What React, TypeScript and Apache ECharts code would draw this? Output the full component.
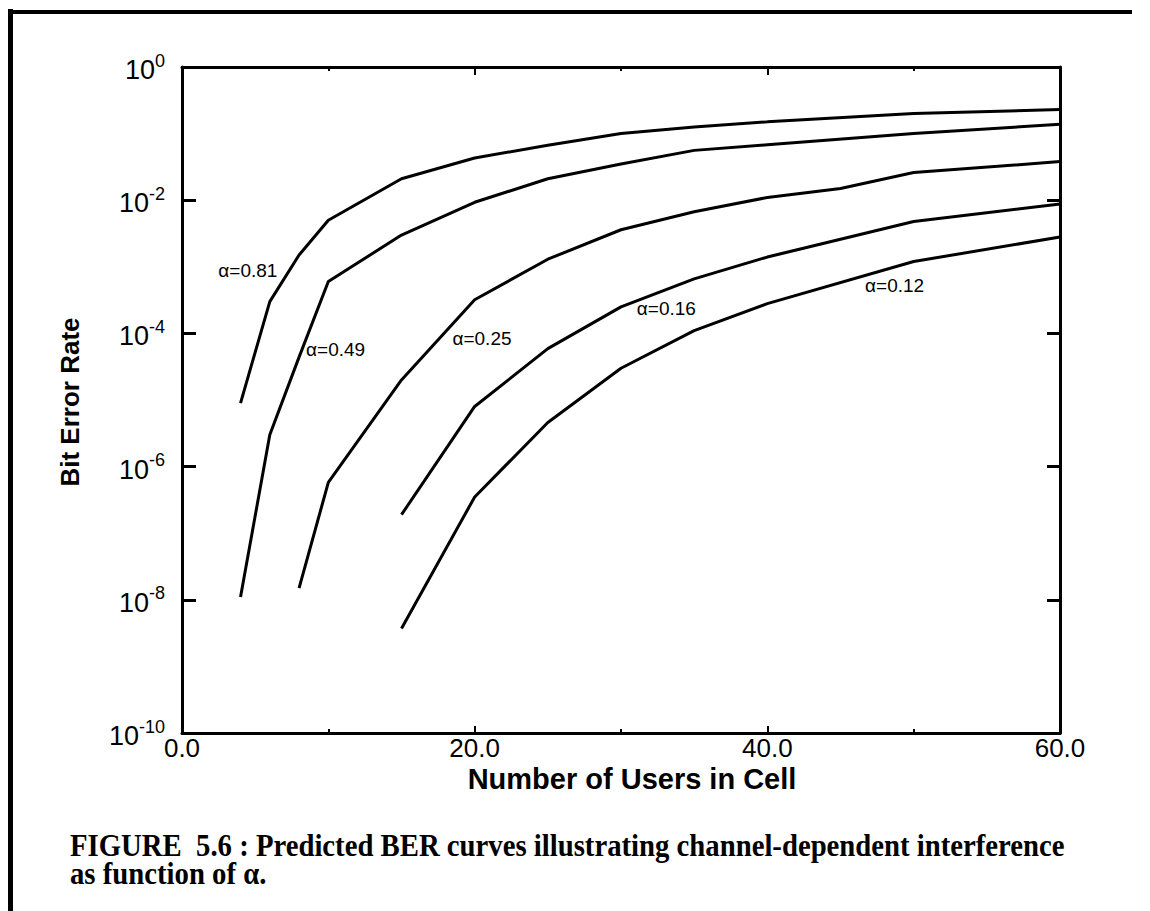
import React, { useEffect, useRef } from 'react';
import * as echarts from 'echarts';

// ---- data ----
const usersA081 = [4, 6, 8, 10, 15, 20, 25, 30, 35, 40, 50, 60];
const berA081 = [9e-6, 3e-4, 1.5e-3, 5e-3, 2.1e-2, 4.3e-2, 6.7e-2, 0.1, 0.126, 0.15, 0.2, 0.23];

const usersA049 = [4, 6, 8, 10, 15, 20, 25, 30, 35, 40, 50, 60];
const berA049 = [1.1e-8, 3e-6, 4.4e-5, 6e-4, 3e-3, 9.3e-3, 2.1e-2, 3.5e-2, 5.6e-2, 6.8e-2, 0.1, 0.138];

const usersA025 = [8, 10, 15, 20, 25, 30, 35, 40, 45, 50, 60];
const berA025 = [1.5e-8, 5.8e-7, 2e-5, 3.2e-4, 1.3e-3, 3.6e-3, 6.7e-3, 1.1e-2, 1.5e-2, 2.6e-2, 3.8e-2];

const usersA016 = [15, 20, 25, 30, 35, 40, 50, 60];
const berA016 = [1.9e-7, 8e-6, 5.9e-5, 2.5e-4, 6.6e-4, 1.4e-3, 4.8e-3, 8.8e-3];

const usersA012 = [15, 20, 25, 30, 35, 40, 50, 60];
const berA012 = [3.7e-9, 3.5e-7, 4.6e-6, 3e-5, 1.1e-4, 2.8e-4, 1.2e-3, 2.8e-3];

const curveNames = ['α=0.81', 'α=0.49', 'α=0.25', 'α=0.16', 'α=0.12'];
// label anchors, in data coordinates
const labelUsers = [4.5, 10.5, 20.5, 33.1, 48.7];
const labelBer = [8.7e-4, 5.7e-5, 8.3e-5, 2.4e-4, 5.2e-4];

const xTitle = 'Number of Users in Cell';
const yTitle = 'Bit Error Rate';
const captionLine1 = 'FIGURE  5.6 : Predicted BER curves illustrating channel-dependent interference';
const captionLine2 = 'as function of α.';

const SANS = '"Liberation Sans", Arial, Helvetica, sans-serif';
const SERIF = '"Liberation Serif", "Times New Roman", serif';

const curves = [
  [usersA081, berA081],
  [usersA049, berA049],
  [usersA025, berA025],
  [usersA016, berA016],
  [usersA012, berA012],
];

function measure(text: string, font: string): number {
  const c = document.createElement('canvas');
  const ctx = c.getContext('2d');
  if (!ctx) return 1;
  ctx.font = font;
  return ctx.measureText(text).width;
}

export default function App() {
  const ref = useRef<HTMLDivElement>(null);

  useEffect(() => {
    if (!ref.current) return;
    const chart = echarts.init(ref.current, null, { renderer: 'svg' });

    const capFont = `bold 31px ${SERIF}`;
    const capW = measure(captionLine1, capFont);
    const capScale = capW > 0 ? 995 / capW : 1;

    const axisLine = { show: true, onZero: false, lineStyle: { color: '#000', width: 3 } };

    const series = curves.map(([xs, ys], i) => ({
      type: 'line',
      xAxisIndex: 0,
      yAxisIndex: 0,
      data: xs.map((x, k) => [x, ys[k]]),
      symbol: 'none',
      lineStyle: { color: '#000', width: 3 },
      itemStyle: { color: '#000' },
      markPoint: {
        symbol: 'circle',
        symbolSize: 0,
        silent: true,
        itemStyle: { color: 'transparent' },
        label: {
          show: true,
          position: 'inside',
          formatter: curveNames[i],
          color: '#000',
          fontSize: 19,
          fontFamily: SANS,
        },
        data: [{ name: curveNames[i], coord: [labelUsers[i], labelBer[i]] }],
      },
    }));

    const option = {
      animation: false,
      backgroundColor: '#fff',
      grid: { left: 182, top: 67, width: 878, height: 666, containLabel: false },
      xAxis: [
        {
          type: 'value',
          position: 'bottom',
          min: 0,
          max: 60,
          interval: 20,
          axisLine,
          axisTick: { show: true, inside: true, length: 7, lineStyle: { color: '#000', width: 2 } },
          minorTick: { show: true, splitNumber: 2, length: 4, lineStyle: { color: '#000', width: 2 } },
          splitLine: { show: false },
          axisLabel: {
            formatter: (v: number) => v.toFixed(1),
            color: '#000',
            fontSize: 26,
            fontFamily: SANS,
            margin: 2,
          },
        },
        {
          type: 'value',
          position: 'top',
          min: 0,
          max: 60,
          interval: 20,
          axisLine,
          axisTick: { show: true, inside: true, length: 8, lineStyle: { color: '#000', width: 2 } },
          minorTick: { show: true, splitNumber: 2, length: 4, lineStyle: { color: '#000', width: 2 } },
          splitLine: { show: false },
          axisLabel: { show: false },
        },
      ],
      yAxis: [
        {
          type: 'log',
          logBase: 10,
          position: 'left',
          min: 1e-10,
          max: 1,
          interval: 2,
          axisLine,
          axisTick: { show: true, inside: true, length: 14, lineStyle: { color: '#000', width: 3 } },
          splitLine: { show: false },
          minorTick: { show: false },
          axisLabel: {
            margin: 17,
            formatter: (v: number) => `{a|10}{b|${Math.round(Math.log10(v))}}`,
            rich: {
              a: { fontSize: 27, fontFamily: SANS, color: '#000', lineHeight: 27, padding: [6, 0, 0, 0] },
              b: { fontSize: 18, fontFamily: SANS, color: '#000', lineHeight: 18, padding: [0, 0, 13, 0] },
            },
          },
        },
        {
          type: 'log',
          logBase: 10,
          position: 'right',
          min: 1e-10,
          max: 1,
          interval: 2,
          axisLine,
          axisTick: { show: true, inside: true, length: 13, lineStyle: { color: '#000', width: 3 } },
          splitLine: { show: false },
          minorTick: { show: false },
          axisLabel: { show: false },
        },
      ],
      series,
      graphic: [
        { type: 'line', shape: { x1: 10.5, y1: 9, x2: 10.5, y2: 911 }, style: { stroke: '#000', lineWidth: 5 } },
        { type: 'line', shape: { x1: 8, y1: 12, x2: 1132, y2: 12 }, style: { stroke: '#000', lineWidth: 4 } },
        {
          type: 'text',
          x: 632,
          y: 779,
          style: { text: xTitle, font: `bold 29px ${SANS}`, fill: '#000', align: 'center', verticalAlign: 'middle' },
        },
        {
          type: 'text',
          x: 70,
          y: 402,
          rotation: Math.PI / 2,
          style: { text: yTitle, font: `bold 26px ${SANS}`, fill: '#000', align: 'center', verticalAlign: 'middle' },
        },
        {
          type: 'group',
          x: 70,
          y: 845,
          scaleX: capScale,
          children: [
            { type: 'text', style: { text: captionLine1, font: capFont, fill: '#000', align: 'left', verticalAlign: 'middle' } },
            { type: 'text', y: 28, style: { text: captionLine2, font: capFont, fill: '#000', align: 'left', verticalAlign: 'middle' } },
          ],
        },
      ],
    };

    chart.setOption(option as any);
    return () => chart.dispose();
  }, []);

  return (
    <div
      ref={ref}
      style={{ position: 'absolute', left: 0, top: 0, width: 1150, height: 911, background: '#fff' }}
    />
  );
}
